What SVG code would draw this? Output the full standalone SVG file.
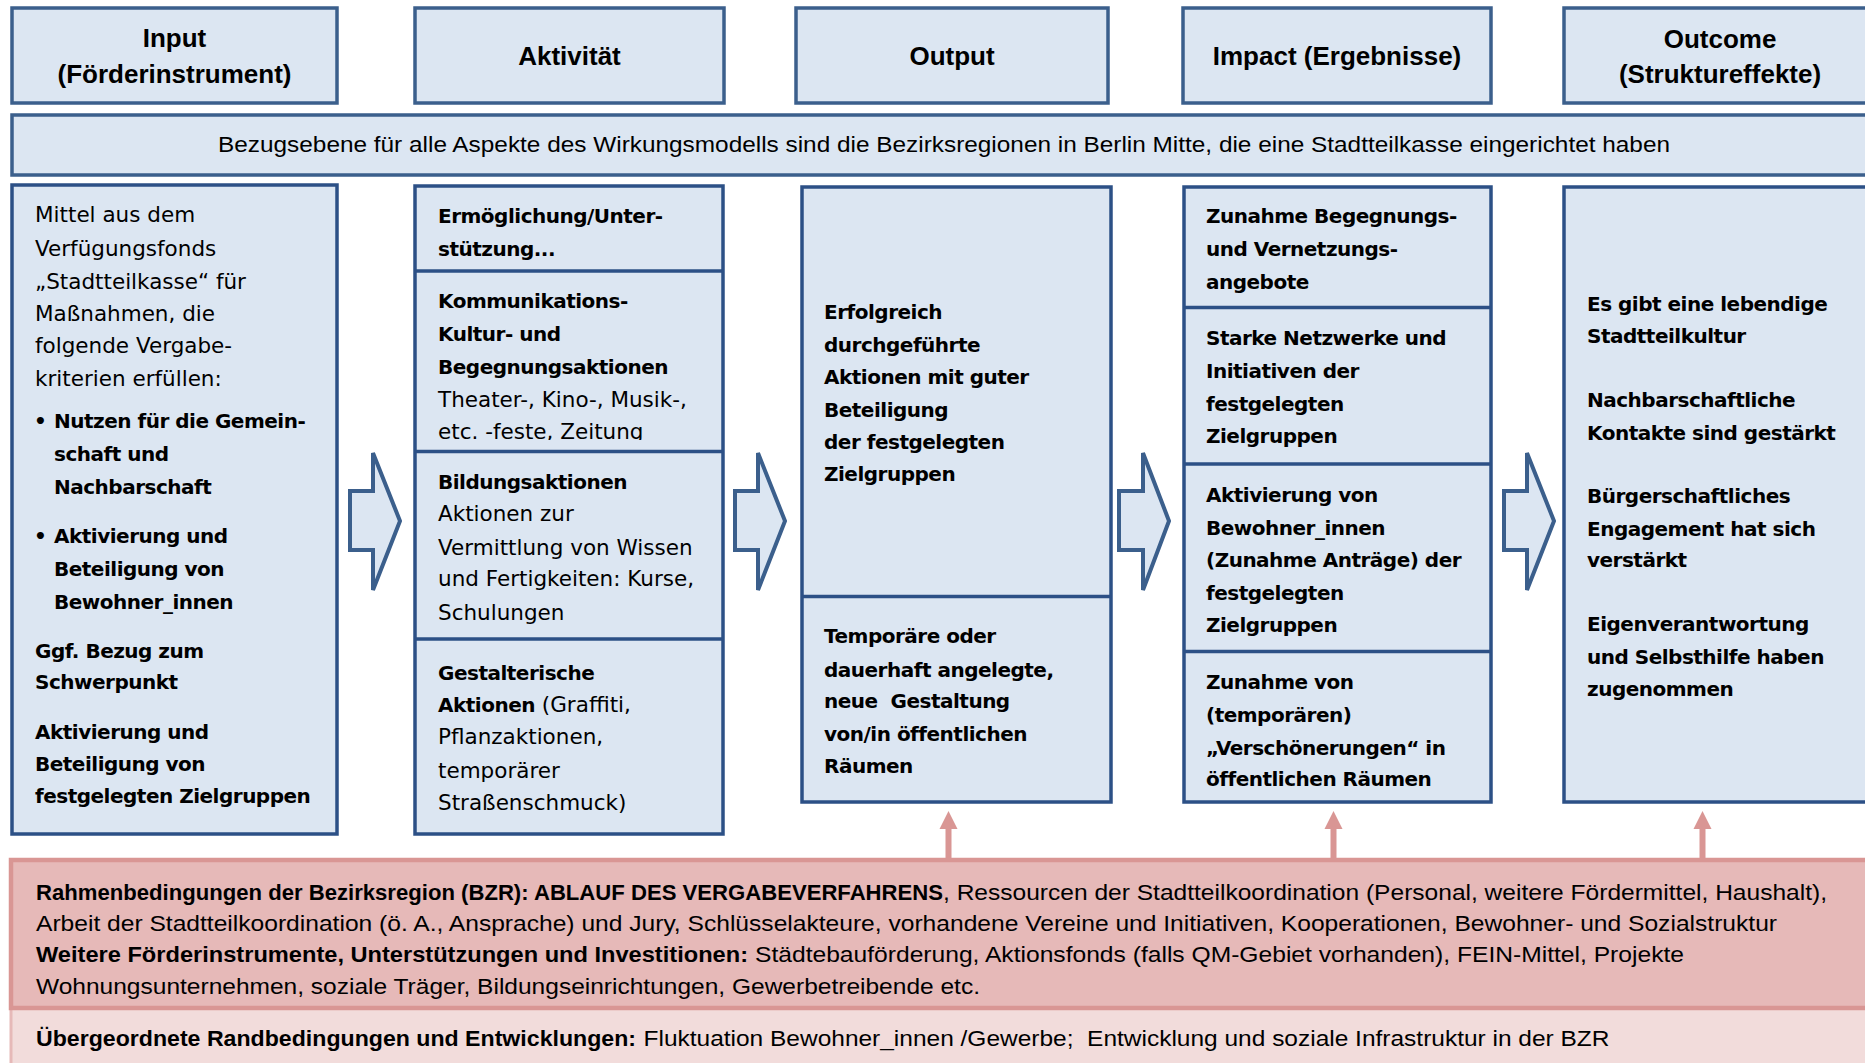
<svg xmlns="http://www.w3.org/2000/svg" width="1865" height="1063" viewBox="0 0 1865 1063">
<style>
.hdr{fill:#dce6f2;stroke:#3b5f8c;stroke-width:3.5}
.box{fill:#dce6f2;stroke:#2c5086;stroke-width:3.5}
.div{stroke:#2c5086;stroke-width:3.5}
.ht{font-family:"Liberation Sans",Arial,sans-serif;font-weight:bold;font-size:26px;fill:#000;text-anchor:middle}
.r{font-family:"DejaVu Sans",Verdana,sans-serif;font-size:21.5px;fill:#000}
.b{font-family:"DejaVu Sans",Verdana,sans-serif;font-weight:bold;font-size:20px;letter-spacing:-0.5px;fill:#000}
.c{font-family:"Liberation Sans",Arial,sans-serif;font-size:22px;fill:#000}
.cb{font-family:"Liberation Sans",Arial,sans-serif;font-size:22px;font-weight:bold;fill:#000}
.blk{fill:#dce6f2;stroke:#3b5f8c;stroke-width:4;stroke-linejoin:miter}
.pk{fill:#d99694}
</style>
<defs>
<clipPath id="clipKom"><rect x="415" y="272" width="310" height="168"/></clipPath>
<clipPath id="clipPink"><rect x="0" y="860" width="1865" height="139"/></clipPath>
</defs>
<rect width="1865" height="1063" fill="#fff"/>

<g id="header-input"><rect class="hdr" x="12" y="8" width="325" height="95"/><text class="ht" x="174.5" y="47">Input</text><text class="ht" x="174.5" y="83">(Förderinstrument)</text></g>
<g id="header-aktivitaet"><rect class="hdr" x="415" y="8" width="309" height="95"/><text class="ht" x="569.5" y="65">Aktivität</text></g>
<g id="header-output"><rect class="hdr" x="796" y="8" width="312" height="95"/><text class="ht" x="952" y="65">Output</text></g>
<g id="header-impact"><rect class="hdr" x="1183" y="8" width="308" height="95"/><text class="ht" x="1337" y="65">Impact (Ergebnisse)</text></g>
<g id="header-outcome"><rect class="hdr" x="1564" y="8" width="310" height="95"/><text class="ht" x="1720" y="48">Outcome</text><text class="ht" x="1720" y="83">(Struktureffekte)</text></g>

<g id="bezugsebene"><rect class="hdr" x="12" y="115" width="1870" height="60"/><text class="c" x="218" y="152" textLength="1452" lengthAdjust="spacingAndGlyphs">Bezugsebene für alle Aspekte des Wirkungsmodells sind die Bezirksregionen in Berlin Mitte, die eine Stadtteilkasse eingerichtet haben</text></g>

<g id="input">
<rect class="box" x="12" y="185" width="325" height="649"/>
<text class="r" x="35" y="222">Mittel aus dem</text>
<text class="r" x="35" y="255.8">Verfügungsfonds</text>
<text class="r" x="35" y="288.6">„Stadtteilkasse“ für</text>
<text class="r" x="35" y="321">Maßnahmen, die</text>
<text class="r" x="35" y="353.4">folgende Vergabe-</text>
<text class="r" x="35" y="386.2">kriterien erfüllen:</text>
<text class="b" x="34" y="428.3">•</text>
<text class="b" x="54" y="428.3">Nutzen für die Gemein-</text>
<text class="b" x="54" y="461">schaft und</text>
<text class="b" x="54" y="493.5">Nachbarschaft</text>
<text class="b" x="34" y="542.8">•</text>
<text class="b" x="54" y="542.8">Aktivierung und</text>
<text class="b" x="54" y="575.6">Beteiligung von</text>
<text class="b" x="54" y="608.5">Bewohner_innen</text>
<text class="b" x="35" y="657.7">Ggf. Bezug zum</text>
<text class="b" x="35" y="689.3">Schwerpunkt</text>
<text class="b" x="35" y="739">Aktivierung und</text>
<text class="b" x="35" y="771.3">Beteiligung von</text>
<text class="b" x="35" y="803">festgelegten Zielgruppen</text>
</g>

<g id="aktivitaet">
<rect class="box" x="415" y="186" width="308" height="648"/>
<line class="div" x1="415" y1="271" x2="723" y2="271"/>
<line class="div" x1="415" y1="451.5" x2="723" y2="451.5"/>
<line class="div" x1="415" y1="639" x2="723" y2="639"/>
<text class="b" x="438" y="223">Ermöglichung/Unter-</text>
<text class="b" x="438" y="255.8">stützung...</text>
<text class="b" x="438" y="308.4">Kommunikations-</text>
<text class="b" x="438" y="340.8">Kultur- und</text>
<text class="b" x="438" y="373.6">Begegnungsaktionen</text>
<text class="r" x="438" y="407">Theater-, Kino-, Musik-,</text>
<text class="r" x="438" y="438.8" clip-path="url(#clipKom)">etc. -feste, Zeitung</text>
<text class="b" x="438" y="489.3">Bildungsaktionen</text>
<text class="r" x="438" y="521">Aktionen zur</text>
<text class="r" x="438" y="554.6">Vermittlung von Wissen</text>
<text class="r" x="438" y="586">und Fertigkeiten: Kurse,</text>
<text class="r" x="438" y="619.8">Schulungen</text>
<text class="b" x="438" y="680">Gestalterische</text>
<text x="438" y="712.4"><tspan class="b">Aktionen</tspan><tspan class="r"> (Graffiti,</tspan></text>
<text class="r" x="438" y="744">Pflanzaktionen,</text>
<text class="r" x="438" y="777.6">temporärer</text>
<text class="r" x="438" y="810">Straßenschmuck)</text>
</g>

<g id="output">
<rect class="box" x="802" y="187" width="309" height="615"/>
<line class="div" x1="802" y1="596.5" x2="1111" y2="596.5"/>
<text class="b" x="824" y="318.9">Erfolgreich</text>
<text class="b" x="824" y="351.7">durchgeführte</text>
<text class="b" x="824" y="384">Aktionen mit guter</text>
<text class="b" x="824" y="417">Beteiligung</text>
<text class="b" x="824" y="448.5">der festgelegten</text>
<text class="b" x="824" y="481">Zielgruppen</text>
<text class="b" x="824" y="643">Temporäre oder</text>
<text class="b" x="824" y="676.6">dauerhaft angelegte,</text>
<text class="b" x="824" y="708.2">neue&#160; Gestaltung</text>
<text class="b" x="824" y="741">von/in öffentlichen</text>
<text class="b" x="824" y="772.6">Räumen</text>
</g>

<g id="impact">
<rect class="box" x="1184" y="187" width="307" height="615"/>
<line class="div" x1="1184" y1="307.5" x2="1491" y2="307.5"/>
<line class="div" x1="1184" y1="464" x2="1491" y2="464"/>
<line class="div" x1="1184" y1="651.5" x2="1491" y2="651.5"/>
<text class="b" x="1206" y="223.4">Zunahme Begegnungs-</text>
<text class="b" x="1206" y="255.8">und Vernetzungs-</text>
<text class="b" x="1206" y="288.6">angebote</text>
<text class="b" x="1206" y="345.4">Starke Netzwerke und</text>
<text class="b" x="1206" y="377.8">Initiativen der</text>
<text class="b" x="1206" y="410.6">festgelegten</text>
<text class="b" x="1206" y="443">Zielgruppen</text>
<text class="b" x="1206" y="502">Aktivierung von</text>
<text class="b" x="1206" y="534.8">Bewohner_innen</text>
<text class="b" x="1206" y="567.2">(Zunahme Anträge) der</text>
<text class="b" x="1206" y="600">festgelegten</text>
<text class="b" x="1206" y="631.6">Zielgruppen</text>
<text class="b" x="1206" y="689.3">Zunahme von</text>
<text class="b" x="1206" y="722">(temporären)</text>
<text class="b" x="1206" y="754.5">„Verschönerungen“ in</text>
<text class="b" x="1206" y="786">öffentlichen Räumen</text>
</g>

<g id="outcome">
<rect class="box" x="1564" y="187" width="320" height="615"/>
<text class="b" x="1587" y="310.5">Es gibt eine lebendige</text>
<text class="b" x="1587" y="343.3">Stadtteilkultur</text>
<text class="b" x="1587" y="407.3">Nachbarschaftliche</text>
<text class="b" x="1587" y="439.7">Kontakte sind gestärkt</text>
<text class="b" x="1587" y="503.2">Bürgerschaftliches</text>
<text class="b" x="1587" y="535.6">Engagement hat sich</text>
<text class="b" x="1587" y="567.2">verstärkt</text>
<text class="b" x="1587" y="631.2">Eigenverantwortung</text>
<text class="b" x="1587" y="664">und Selbsthilfe haben</text>
<text class="b" x="1587" y="695.6">zugenommen</text>
</g>

<g id="rahmenbedingungen">
<rect x="11" y="1008" width="1880" height="70" fill="#f2dcdb" stroke="#e6b9b8" stroke-width="3"/>
<rect x="11" y="860" width="1880" height="148" fill="#e6b9b8" stroke="#d99694" stroke-width="4.5"/>
<g clip-path="url(#clipPink)">
<text class="cb" x="36" y="900" textLength="907" lengthAdjust="spacingAndGlyphs">Rahmenbedingungen der Bezirksregion (BZR): ABLAUF DES VERGABEVERFAHRENS</text>
<text class="c" x="943" y="900" textLength="884" lengthAdjust="spacingAndGlyphs">, Ressourcen der Stadtteilkoordination (Personal, weitere Fördermittel, Haushalt),</text>
<text class="c" x="36" y="930.7" textLength="1741" lengthAdjust="spacingAndGlyphs">Arbeit der Stadtteilkoordination (ö. A., Ansprache) und Jury, Schlüsselakteure, vorhandene Vereine und Initiativen, Kooperationen, Bewohner- und Sozialstruktur</text>
<text class="cb" x="36" y="962.3" textLength="712" lengthAdjust="spacingAndGlyphs">Weitere Förderinstrumente, Unterstützungen und Investitionen:</text>
<text class="c" x="755" y="962.3" textLength="929" lengthAdjust="spacingAndGlyphs">Städtebauförderung, Aktionsfonds (falls QM-Gebiet vorhanden), FEIN-Mittel, Projekte</text>
<text class="c" x="36" y="994" textLength="944" lengthAdjust="spacingAndGlyphs">Wohnungsunternehmen, soziale Träger, Bildungseinrichtungen, Gewerbetreibende etc.</text>
</g>
</g>
<g id="randbedingungen">
<text class="cb" x="36" y="1046" textLength="600" lengthAdjust="spacingAndGlyphs">Übergeordnete Randbedingungen und Entwicklungen:</text>
<text class="c" x="643.5" y="1046" textLength="966" lengthAdjust="spacingAndGlyphs" xml:space="preserve">Fluktuation Bewohner_innen /Gewerbe;  Entwicklung und soziale Infrastruktur in der BZR</text>
</g>

<g id="connectors">
<polygon class="blk" points="350,491 373,491 373,453 400,521 373,590 373,550 350,550"/>
<polygon class="blk" points="735,491 758,491 758,453 785,521 758,590 758,550 735,550"/>
<polygon class="blk" points="1119,491 1143,491 1143,453 1169,521 1143,590 1143,550 1119,550"/>
<polygon class="blk" points="1504,491 1527,491 1527,453 1554,521 1527,590 1527,550 1504,550"/>
<g class="pk">
<rect x="945.5" y="826" width="6" height="34"/><polygon points="939.5,829 948.5,811 957.5,829"/>
<rect x="1330.5" y="826" width="6" height="34"/><polygon points="1324.5,829 1333.5,811 1342.5,829"/>
<rect x="1699.5" y="826" width="6" height="34"/><polygon points="1693.5,829 1702.5,811 1711.5,829"/>
</g>
</g>
</svg>
